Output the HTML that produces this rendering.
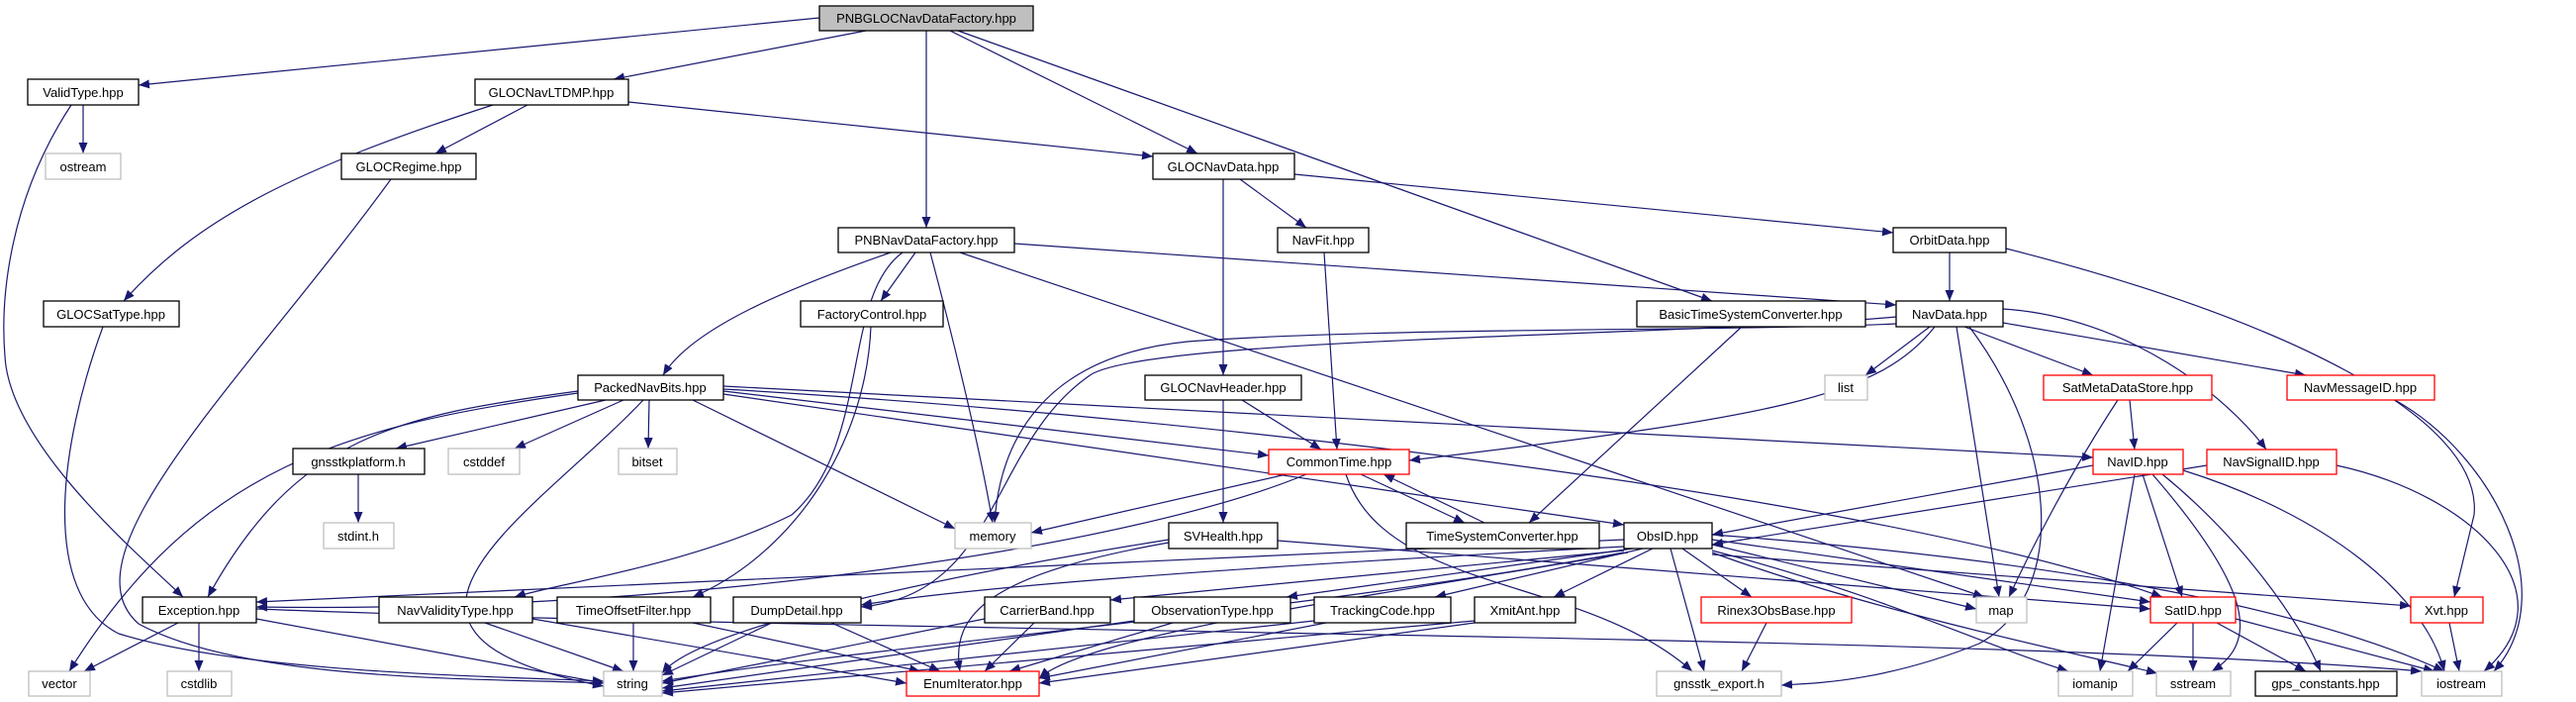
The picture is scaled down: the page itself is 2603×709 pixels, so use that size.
<!DOCTYPE html>
<html><head><meta charset="utf-8"><style>
html,body{margin:0;padding:0;background:#fff;}
svg{display:block}
text{font-family:"Liberation Sans",sans-serif;font-size:13px;fill:#000;}
.e{fill:none;stroke:#191970;stroke-width:1.2;marker-end:url(#a)}
.n{fill:#fff;stroke:#000;stroke-width:1.3}
.g{fill:#fff;stroke:#bfbfbf;stroke-width:1.3}
.r{fill:#fff;stroke:#ff0000;stroke-width:1.3}
</style></head><body>
<svg width="2603" height="709" viewBox="0 0 2603 709" xmlns="http://www.w3.org/2000/svg">
<defs><marker id="a" markerUnits="userSpaceOnUse" markerWidth="11" markerHeight="9" refX="11" refY="4.5" orient="auto"><path d="M0,0 L11,4.5 L0,9 z" fill="#191970"/></marker></defs>
<g>
<path class="e" d="M828,18 L140,86"/>
<path class="e" d="M875,31 L620,80"/>
<path class="e" d="M936,31 L936,230"/>
<path class="e" d="M960,31 L1210,155"/>
<path class="e" d="M968,31 L1730,304"/>
<path class="e" d="M84,106 L84,155"/>
<path class="e" d="M72,106 C10,200 0,300 5,360 C10,450 140,560 185,603"/>
<path class="e" d="M498,106 C300,170 200,220 125,304"/>
<path class="e" d="M533,106 L440,155"/>
<path class="e" d="M635,103 L1165,158"/>
<path class="e" d="M395,181 C250,380 60,560 140,630 C250,690 500,685 610,690"/>
<path class="e" d="M104,330 C60,450 40,600 120,640 C250,680 500,683 610,688"/>
<path class="e" d="M1253,181 L1320,230"/>
<path class="e" d="M1236,181 L1236,379"/>
<path class="e" d="M1308,176 L1913,235"/>
<path class="e" d="M1338,255 L1351,454"/>
<path class="e" d="M1970,255 L1970,304"/>
<path class="e" d="M2027,251 C2300,320 2510,420 2500,520 L2480,603"/>
<path class="e" d="M1025,246 L1916,308"/>
<path class="e" d="M925,255 L890,304"/>
<path class="e" d="M900,255 C800,290 700,330 670,379"/>
<path class="e" d="M912,255 C850,300 880,450 800,520 C700,570 560,590 520,603"/>
<path class="e" d="M940,255 C960,330 990,450 1003,528"/>
<path class="e" d="M970,255 L2005,603"/>
<path class="e" d="M880,330 C875,450 800,560 700,603"/>
<path class="e" d="M1760,330 L1545,528"/>
<path class="e" d="M1950,330 L1885,379"/>
<path class="e" d="M1985,330 L2115,379"/>
<path class="e" d="M2024,326 L2330,379"/>
<path class="e" d="M2024,312 C2150,320 2250,400 2290,454"/>
<path class="e" d="M1977,330 L2020,603"/>
<path class="e" d="M1990,330 C2080,450 2090,600 2000,650 C1900,690 1830,690 1800,692"/>
<path class="e" d="M1955,330 C1900,400 1800,420 1424,465"/>
<path class="e" d="M1916,327 C1750,335 1400,330 1200,345 C1050,360 1010,450 1005,528"/>
<path class="e" d="M1916,320 C1700,340 1150,340 1100,380 C1000,450 1010,600 870,613"/>
<path class="e" d="M1255,404 L1335,454"/>
<path class="e" d="M1236,404 L1236,528"/>
<path class="e" d="M612,404 L400,453"/>
<path class="e" d="M630,404 L520,453"/>
<path class="e" d="M656,404 L655,453"/>
<path class="e" d="M700,404 L965,534"/>
<path class="e" d="M650,404 C540,520 330,640 610,693"/>
<path class="e" d="M584,395 C400,420 300,440 210,603"/>
<path class="e" d="M584,397 C350,430 200,470 70,678"/>
<path class="e" d="M731,395 L1282,460"/>
<path class="e" d="M731,398 L1641,530"/>
<path class="e" d="M731,390 L2115,462"/>
<path class="e" d="M731,393 C1200,420 1900,500 2185,603"/>
<path class="e" d="M362,479 L362,528"/>
<path class="e" d="M1300,479 L1042,538"/>
<path class="e" d="M1320,479 C1150,550 700,620 259,613"/>
<path class="e" d="M1375,479 L1480,528"/>
<path class="e" d="M1500,528 L1398,479"/>
<path class="e" d="M1360,479 C1400,600 1600,580 1710,678"/>
<path class="e" d="M1181,548 C1000,580 960,620 970,678"/>
<path class="e" d="M1181,545 C900,590 700,640 669,680"/>
<path class="e" d="M1291,546 L2173,615"/>
<path class="e" d="M2152,404 L2157,454"/>
<path class="e" d="M2140,404 C2090,480 2050,560 2030,603"/>
<path class="e" d="M2420,404 C2520,460 2590,600 2520,678"/>
<path class="e" d="M2115,470 L1730,540"/>
<path class="e" d="M2165,479 L2205,603"/>
<path class="e" d="M2157,479 L2122,678"/>
<path class="e" d="M2175,479 C2280,600 2280,650 2235,678"/>
<path class="e" d="M2185,479 C2260,540 2320,620 2345,678"/>
<path class="e" d="M2206,475 C2350,520 2450,600 2470,678"/>
<path class="e" d="M2230,470 L1730,550"/>
<path class="e" d="M2361,470 C2500,500 2600,600 2510,678"/>
<path class="e" d="M1641,545 L259,608"/>
<path class="e" d="M1641,556 L1122,606"/>
<path class="e" d="M1650,554 L1300,603"/>
<path class="e" d="M1660,554 L1450,603"/>
<path class="e" d="M1670,554 L1570,603"/>
<path class="e" d="M1700,554 L1770,603"/>
<path class="e" d="M1688,554 L1722,678"/>
<path class="e" d="M1730,550 L1997,615"/>
<path class="e" d="M1730,545 L2173,608"/>
<path class="e" d="M1730,556 C1900,600 2000,650 2090,678"/>
<path class="e" d="M1730,558 C1900,620 2100,660 2180,680"/>
<path class="e" d="M1730,540 C2000,560 2300,600 2470,678"/>
<path class="e" d="M1730,560 L2436,612"/>
<path class="e" d="M1641,558 C1300,620 900,650 669,688"/>
<path class="e" d="M1645,558 C1400,600 1100,640 1050,685"/>
<path class="e" d="M1641,552 C1300,570 1000,590 870,611"/>
<path class="e" d="M180,629 L85,678"/>
<path class="e" d="M201,629 L201,678"/>
<path class="e" d="M259,625 L610,690"/>
<path class="e" d="M259,615 C900,640 2000,640 2447,678"/>
<path class="e" d="M490,629 L630,678"/>
<path class="e" d="M538,625 L916,690"/>
<path class="e" d="M640,629 L640,678"/>
<path class="e" d="M700,629 L930,678"/>
<path class="e" d="M780,629 L669,682"/>
<path class="e" d="M840,629 L950,678"/>
<path class="e" d="M995,625 L669,690"/>
<path class="e" d="M1045,629 L995,678"/>
<path class="e" d="M1146,627 L669,695"/>
<path class="e" d="M1185,629 L1020,678"/>
<path class="e" d="M1328,627 L669,698"/>
<path class="e" d="M1340,629 L1050,685"/>
<path class="e" d="M1490,627 L669,700"/>
<path class="e" d="M1490,629 L1050,690"/>
<path class="e" d="M1785,629 L1760,678"/>
<path class="e" d="M2200,629 L2150,678"/>
<path class="e" d="M2216,629 L2216,678"/>
<path class="e" d="M2240,629 L2330,678"/>
<path class="e" d="M2259,625 L2460,678"/>
<path class="e" d="M2475,629 L2485,678"/>
</g>
<g text-anchor="middle">
<rect x="828" y="6" width="216" height="25" fill="#bfbfbf" stroke="#000" stroke-width="1.3"/><text x="936" y="23">PNBGLOCNavDataFactory.hpp</text>
<rect class="n" x="28" y="80" width="112" height="26"/><text x="84" y="98">ValidType.hpp</text>
<rect class="g" x="46" y="155" width="76" height="26"/><text x="84" y="173">ostream</text>
<rect class="n" x="480" y="80" width="155" height="26"/><text x="557" y="98">GLOCNavLTDMP.hpp</text>
<rect class="n" x="345" y="155" width="136" height="26"/><text x="413" y="173">GLOCRegime.hpp</text>
<rect class="n" x="44" y="304" width="137" height="26"/><text x="112" y="322">GLOCSatType.hpp</text>
<rect class="n" x="847" y="230" width="178" height="25"/><text x="936" y="247">PNBNavDataFactory.hpp</text>
<rect class="n" x="809" y="304" width="144" height="26"/><text x="881" y="322">FactoryControl.hpp</text>
<rect class="n" x="1165" y="155" width="143" height="26"/><text x="1236" y="173">GLOCNavData.hpp</text>
<rect class="n" x="1291" y="230" width="92" height="25"/><text x="1337" y="247">NavFit.hpp</text>
<rect class="n" x="1654" y="304" width="231" height="26"/><text x="1769" y="322">BasicTimeSystemConverter.hpp</text>
<rect class="n" x="1913" y="230" width="114" height="25"/><text x="1970" y="247">OrbitData.hpp</text>
<rect class="n" x="1916" y="304" width="108" height="26"/><text x="1970" y="322">NavData.hpp</text>
<rect class="n" x="584" y="379" width="147" height="25"/><text x="657" y="396">PackedNavBits.hpp</text>
<rect class="n" x="296" y="453" width="133" height="26"/><text x="362" y="471">gnsstkplatform.h</text>
<rect class="g" x="453" y="453" width="72" height="26"/><text x="489" y="471">cstddef</text>
<rect class="g" x="625" y="453" width="59" height="26"/><text x="654" y="471">bitset</text>
<rect class="g" x="327" y="528" width="71" height="26"/><text x="362" y="546">stdint.h</text>
<rect class="n" x="144" y="603" width="115" height="26"/><text x="201" y="621">Exception.hpp</text>
<rect class="n" x="383" y="603" width="155" height="26"/><text x="460" y="621">NavValidityType.hpp</text>
<rect class="n" x="563" y="603" width="155" height="26"/><text x="640" y="621">TimeOffsetFilter.hpp</text>
<rect class="n" x="741" y="603" width="129" height="26"/><text x="805" y="621">DumpDetail.hpp</text>
<rect class="g" x="29" y="678" width="62" height="25"/><text x="60" y="695">vector</text>
<rect class="g" x="169" y="678" width="65" height="25"/><text x="201" y="695">cstdlib</text>
<rect class="g" x="610" y="678" width="59" height="25"/><text x="639" y="695">string</text>
<rect class="n" x="1157" y="379" width="158" height="25"/><text x="1236" y="396">GLOCNavHeader.hpp</text>
<rect class="r" x="1282" y="454" width="142" height="25"/><text x="1353" y="471">CommonTime.hpp</text>
<rect class="g" x="965" y="528" width="77" height="26"/><text x="1003" y="546">memory</text>
<rect class="n" x="1181" y="528" width="110" height="26"/><text x="1236" y="546">SVHealth.hpp</text>
<rect class="n" x="1421" y="528" width="195" height="26"/><text x="1518" y="546">TimeSystemConverter.hpp</text>
<rect class="n" x="1641" y="528" width="89" height="26"/><text x="1685" y="546">ObsID.hpp</text>
<rect class="n" x="995" y="603" width="127" height="26"/><text x="1058" y="621">CarrierBand.hpp</text>
<rect class="n" x="1146" y="603" width="158" height="26"/><text x="1225" y="621">ObservationType.hpp</text>
<rect class="n" x="1328" y="603" width="138" height="26"/><text x="1397" y="621">TrackingCode.hpp</text>
<rect class="n" x="1490" y="603" width="102" height="26"/><text x="1541" y="621">XmitAnt.hpp</text>
<rect class="r" x="1719" y="603" width="152" height="26"/><text x="1795" y="621">Rinex3ObsBase.hpp</text>
<rect class="r" x="916" y="678" width="134" height="25"/><text x="983" y="695">EnumIterator.hpp</text>
<rect class="g" x="1674" y="678" width="126" height="25"/><text x="1737" y="695">gnsstk_export.h</text>
<rect class="g" x="1844" y="379" width="43" height="25"/><text x="1865" y="396">list</text>
<rect class="r" x="2065" y="379" width="170" height="25"/><text x="2150" y="396">SatMetaDataStore.hpp</text>
<rect class="r" x="2311" y="379" width="149" height="25"/><text x="2385" y="396">NavMessageID.hpp</text>
<rect class="r" x="2115" y="454" width="91" height="25"/><text x="2160" y="471">NavID.hpp</text>
<rect class="r" x="2230" y="454" width="131" height="25"/><text x="2295" y="471">NavSignalID.hpp</text>
<rect class="g" x="1997" y="603" width="51" height="26"/><text x="2022" y="621">map</text>
<rect class="r" x="2173" y="603" width="86" height="26"/><text x="2216" y="621">SatID.hpp</text>
<rect class="r" x="2436" y="603" width="73" height="26"/><text x="2472" y="621">Xvt.hpp</text>
<rect class="g" x="2080" y="678" width="75" height="25"/><text x="2117" y="695">iomanip</text>
<rect class="g" x="2179" y="678" width="75" height="25"/><text x="2216" y="695">sstream</text>
<rect class="n" x="2279" y="678" width="143" height="25"/><text x="2350" y="695">gps_constants.hpp</text>
<rect class="g" x="2447" y="678" width="81" height="25"/><text x="2487" y="695">iostream</text>
</g>
</svg>
</body></html>
